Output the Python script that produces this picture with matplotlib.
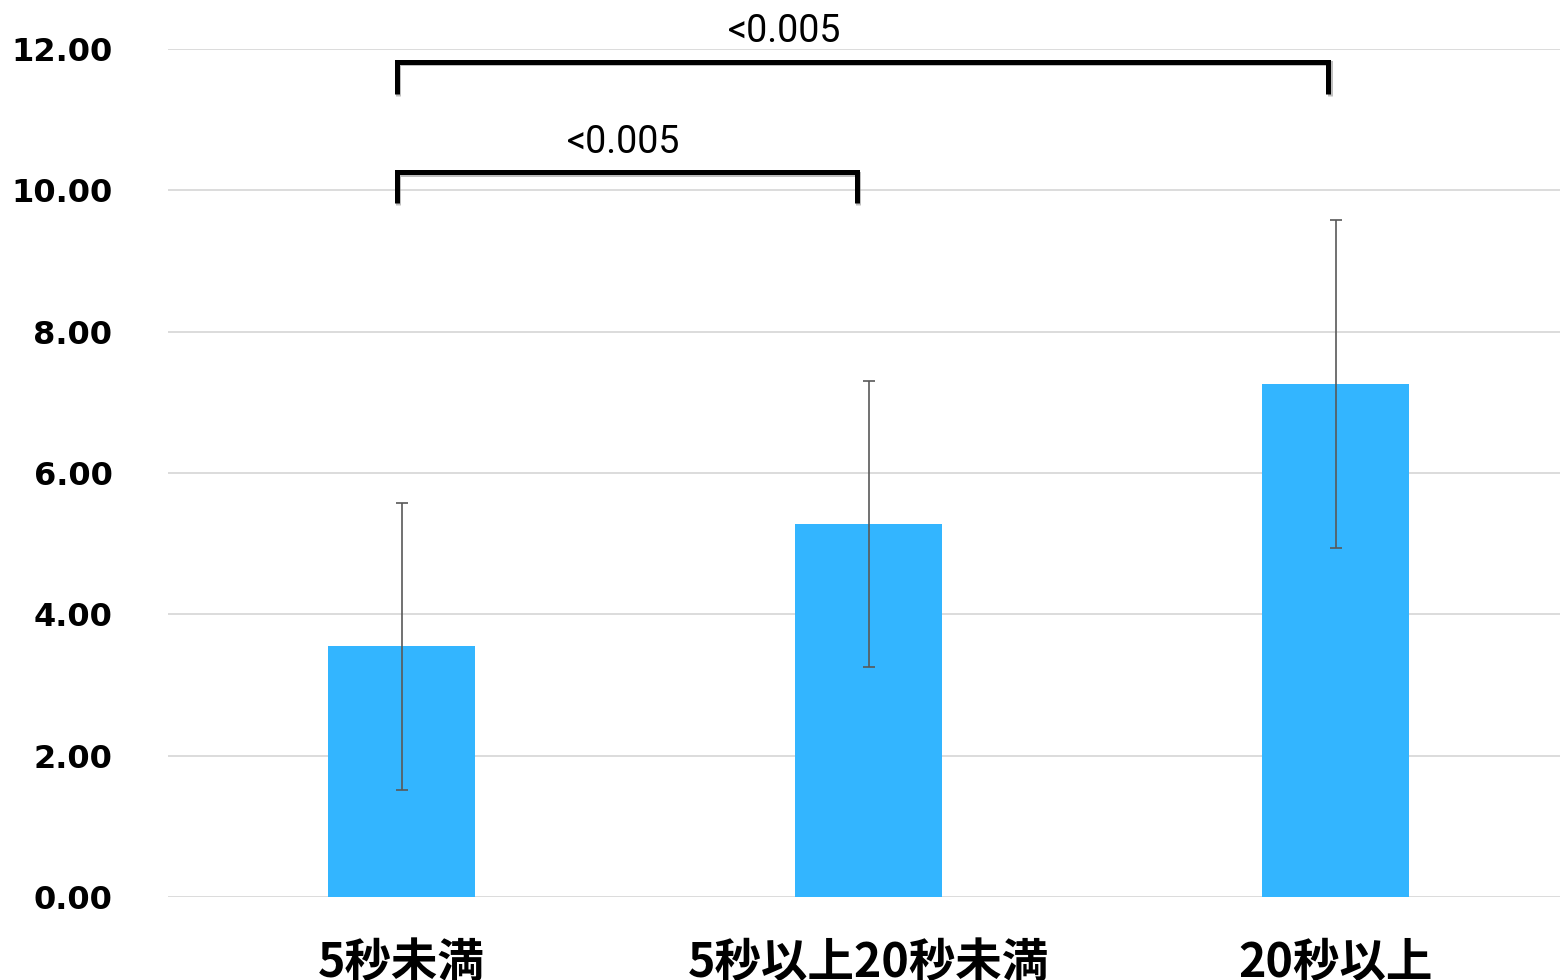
import matplotlib
matplotlib.use("Agg")
import matplotlib.pyplot as plt
import matplotlib.patheffects as pe

# data
categories = ['5秒未満', '5秒以上20秒未満', '20秒以上']
means = [3.55, 5.28, 7.26]
errors = [2.03, 2.02, 2.32]
yticks = [0, 2, 4, 6, 8, 10, 12]
p_labels = ['<0.005', '<0.005']

W, H = 1560, 980
fig = plt.figure(figsize=(W / 100, H / 100), dpi=100)
ax = fig.add_axes([168 / W, 83 / H, 1401 / W, 848 / H])

x = list(range(len(categories)))
ax.bar(x, means, width=0.313, color='#33B5FF', zorder=2)
ax.errorbar(x, means, yerr=errors, fmt='none', ecolor='#595959',
            elinewidth=1.2, capsize=4.3, capthick=1.2, zorder=3)

ax.set_xlim(-0.5, 2.5)
ax.set_ylim(0, 12)
ax.set_yticks(yticks)
ax.set_yticklabels([f'{v:.2f}' for v in yticks], fontfamily='DejaVu Sans',
                   fontweight='bold', fontsize=23)
ax.set_xticks(x)
ax.set_xticklabels(categories, fontfamily=['Noto Sans CJK JP', 'DejaVu Sans'],
                   fontweight='bold', fontsize=33.5)
ax.tick_params(axis='y', length=0, pad=40)
ax.tick_params(axis='x', length=0, pad=30)
ax.grid(axis='y', color='#d9d9d9', linewidth=1.3, zorder=0)
for s in ax.spines.values():
    s.set_visible(False)

# significance brackets: (x start, x end), top, foot, label x, label y
brackets = [((-0.01, 0.975), 10.26, 9.82, 0.474, 10.68),
            ((-0.01, 1.985), 11.82, 11.36, 0.82, 12.25)]
shadow = [pe.SimpleLineShadow(offset=(1.2, -1.2), shadow_color='gray', alpha=0.5),
          pe.Normal()]
for ((xa, xb), top, bot, tx, ty), lab in zip(brackets, p_labels):
    ax.plot([xa, xa, xb, xb], [bot, top, top, bot], color='black', linewidth=3.6,
            solid_joinstyle='miter', solid_capstyle='butt', clip_on=False,
            path_effects=shadow, zorder=4)
    ax.text(tx, ty, lab, ha='center', va='center',
            fontfamily='Roboto', fontsize=27, clip_on=False)

fig.savefig('out.png', dpi=100)
